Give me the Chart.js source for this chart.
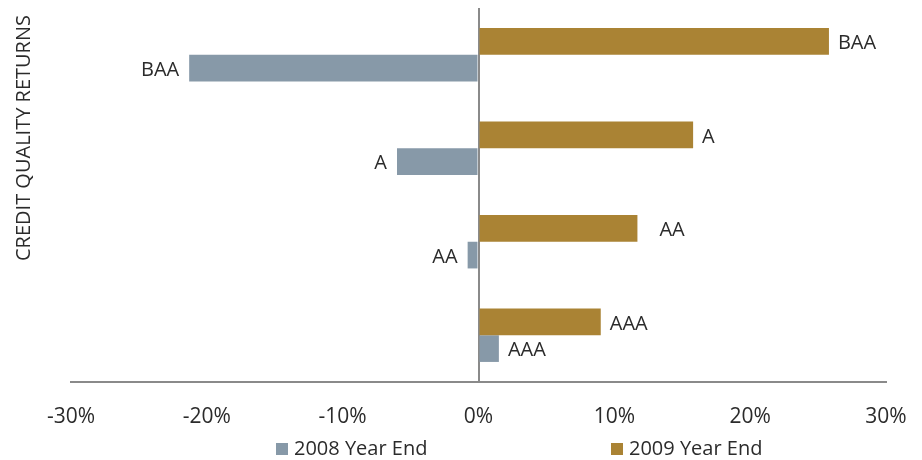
<!DOCTYPE html>
<html>
<head>
<meta charset="utf-8">
<script src="https://cdn.jsdelivr.net/npm/chart.js@4/dist/chart.umd.min.js"></script>
<style>
  html, body { margin: 0; padding: 0; background: #fff; }
  #wrap { width: 922px; height: 460px; position: relative; }
</style>
</head>
<body>
<div id="wrap"><canvas id="myChart" width="922" height="460"></canvas></div>
<script>
// Credit quality buckets, top to bottom
const categories = ["BAA", "A", "AA", "AAA"];
// Returns in percent
const returns2009 = [25.8, 15.8, 11.7, 9.0];
const returns2008 = [-21.3, -6.0, -0.8, 1.5];
const xTicks = [-30, -20, -10, 0, 10, 20, 30];
// the AA 2009 label sits a little further from its bar
const labelNudge2009 = [0, 0, 13, 0];

const GOLD = "#AA8334";
const SLATE = "#8799A8";
const AXIS = "#8a8a8a";
const TEXT = "#2b2b2b";
const FONT = "'Open Sans', 'DejaVu Sans', sans-serif";

const barLabels = {
  id: "barLabels",
  afterDatasetsDraw(chart) {
    const ctx = chart.ctx;
    ctx.save();
    ctx.font = "20px " + FONT;
    ctx.fillStyle = TEXT;
    ctx.textBaseline = "middle";
    chart.data.datasets.forEach((ds, i) => {
      const meta = chart.getDatasetMeta(i);
      meta.data.forEach((bar, j) => {
        const v = ds.data[j];
        const nudge = i === 0 ? labelNudge2009[j] : 0;
        if (v >= 0) {
          ctx.textAlign = "left";
          ctx.fillText(categories[j], bar.x + 9 + nudge, bar.y + 2);
        } else {
          ctx.textAlign = "right";
          ctx.fillText(categories[j], bar.x - 10, bar.y + 2);
        }
      });
    });
    ctx.restore();
  },
};

const sideTitleAndLegend = {
  id: "sideTitleAndLegend",
  afterDraw(chart) {
    const ctx = chart.ctx;
    ctx.save();
    // rotated axis title
    ctx.font = "20px " + FONT;
    ctx.fillStyle = TEXT;
    ctx.translate(24, 138);
    ctx.rotate(-Math.PI / 2);
    ctx.textAlign = "center";
    ctx.textBaseline = "middle";
    ctx.fillText("CREDIT QUALITY RETURNS", 0, 0);
    ctx.restore();

    // legend: 2008 first, then 2009
    const items = [
      { label: "2008 Year End", color: SLATE, x: 276 },
      { label: "2009 Year End", color: GOLD, x: 611 },
    ];
    ctx.save();
    ctx.font = "20px " + FONT;
    ctx.textBaseline = "alphabetic";
    ctx.textAlign = "left";
    items.forEach((it) => {
      ctx.fillStyle = it.color;
      ctx.fillRect(it.x, 443, 12, 12);
      ctx.fillStyle = TEXT;
      ctx.fillText(it.label, it.x + 18, 455);
    });
    ctx.restore();
  },
};

new Chart(document.getElementById("myChart"), {
  type: "bar",
  data: {
    labels: categories,
    datasets: [
      {
        label: "2009 Year End",
        data: returns2009,
        backgroundColor: GOLD,
        categoryPercentage: 0.571,
        barPercentage: 1,
      },
      {
        label: "2008 Year End",
        data: returns2008,
        backgroundColor: SLATE,
        categoryPercentage: 0.571,
        barPercentage: 1,
      },
    ],
  },
  options: {
    indexAxis: "y",
    responsive: false,
    animation: false,
    layout: { padding: { left: 71, right: 36, top: 8, bottom: 0 } },
    scales: {
      x: {
        min: -30,
        max: 30,
        afterBuildTicks(scale) {
          scale.ticks = xTicks.map((v) => ({ value: v }));
        },
        afterFit(scale) {
          scale.height = 78;
          // edge labels fit inside the layout padding already
          scale.paddingLeft = 0;
          scale.paddingRight = 0;
        },
        grid: {
          drawTicks: false,
          lineWidth: 2,
          color: (c) => (c.tick && c.tick.value === 0 ? AXIS : "rgba(0,0,0,0)"),
        },
        border: { display: true, color: AXIS, width: 2 },
        ticks: {
          padding: 22,
          color: TEXT,
          font: { family: FONT, size: 21 },
          callback: (v) => v + "%",
        },
      },
      y: {
        display: false,
      },
    },
    plugins: {
      legend: { display: false },
      tooltip: { enabled: false },
    },
  },
  plugins: [barLabels, sideTitleAndLegend],
});
</script>
</body>
</html>
